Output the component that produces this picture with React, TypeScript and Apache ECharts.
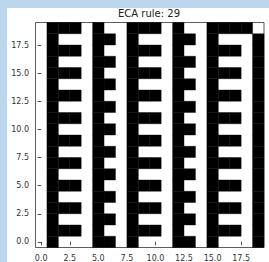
import React, { useEffect, useRef } from "react";
import * as echarts from "echarts";

const TITLE = "ECA rule: 29";
const X_TICKS = [0, 2.5, 5, 7.5, 10, 12.5, 15, 17.5];
const Y_TICKS = [0, 2.5, 5, 7.5, 10, 12.5, 15, 17.5];
const N_COLS = 20;
const N_ROWS = 20;
// cell states, top row (y = 19) first; 1 = black
const ROWS_TOP_TO_BOTTOM = [
  "01110100111010011110",
  "01000110100011010001",
  "01110100111010011101",
  "01000110100011010001",
  "01110100111010011101",
  "01000110100011010001",
  "01110100111010011101",
  "01000110100011010001",
  "01110100111010011101",
  "01000110100011010001",
  "01110100111010011101",
  "01000110100011010001",
  "01110100111010011101",
  "01000110100011010001",
  "01110100111010011101",
  "01000110100011010001",
  "01110100111010011101",
  "01000110100011010001",
  "01110100111010011101",
  "01000110100011010001",
];

export default function App() {
  const ref = useRef<HTMLDivElement>(null);
  useEffect(() => {
    if (!ref.current) return;
    const chart = echarts.init(ref.current, null, { renderer: "svg" });
    const cells: number[][] = [];
    ROWS_TOP_TO_BOTTOM.forEach((row, r) => {
      const y = N_ROWS - 1 - r;
      row.split("").forEach((ch, c) => {
        if (ch === "1") cells.push([c, y]);
      });
    });
    const axisCommon = {
      type: "value" as const,
      min: -0.5,
      max: N_COLS - 0.5,
      splitLine: { show: false },
      axisLine: { show: false },
      axisTick: {
        show: true,
        length: 3.5,
        lineStyle: { color: "#222", width: 0.8 },
      },
      axisLabel: {
        show: true,
        margin: 6.5,
        fontSize: 8,
        color: "#333",
        fontFamily: "DejaVu Sans",
        formatter: (v: number) => v.toFixed(1),
      },
    };
    chart.setOption({
      animation: false,
      backgroundColor: "#ffffff",
      grid: {
        left: 28.5,
        top: 14.5,
        width: 228.5,
        height: 227.5,
        show: true,
        borderColor: "#333",
        borderWidth: 0.8,
      },
      xAxis: {
        ...axisCommon,
        axisTick: { ...axisCommon.axisTick, customValues: X_TICKS },
        axisLabel: { ...axisCommon.axisLabel, customValues: X_TICKS },
      },
      yAxis: {
        ...axisCommon,
        max: N_ROWS - 0.5,
        axisTick: { ...axisCommon.axisTick, customValues: Y_TICKS },
        axisLabel: { ...axisCommon.axisLabel, customValues: Y_TICKS },
      },
      graphic: [
        {
          type: "text",
          x: 142,
          y: 5,
          style: {
            text: TITLE,
            align: "center",
            verticalAlign: "middle",
            fontSize: 10,
            fontFamily: "DejaVu Sans",
            fill: "#222",
          },
        },
      ],
      series: [
        {
          type: "custom",
          coordinateSystem: "cartesian2d",
          encode: { x: 0, y: 1 },
          data: cells,
          renderItem: (params: any, api: any) => {
            const x = api.value(0);
            const y = api.value(1);
            const p0 = api.coord([x - 0.5, y + 0.5]);
            const p1 = api.coord([x + 0.5, y - 0.5]);
            return {
              type: "rect",
              shape: { x: p0[0], y: p0[1], width: p1[0] - p0[0], height: p1[1] - p0[1] },
              style: { fill: "#000", stroke: "#000", lineWidth: 0.4 },
            };
          },
        },
      ],
    });
    return () => chart.dispose();
  }, []);
  return (
    <div
      style={{
        position: "fixed",
        left: 0,
        top: 0,
        width: 269,
        height: 262,
        background: "rgb(188,214,238)",
        overflow: "hidden",
      }}
    >
      <div
        ref={ref}
        style={{ position: "absolute", left: 7, top: 8, width: 262, height: 254, background: "#fff" }}
      />
    </div>
  );
}
